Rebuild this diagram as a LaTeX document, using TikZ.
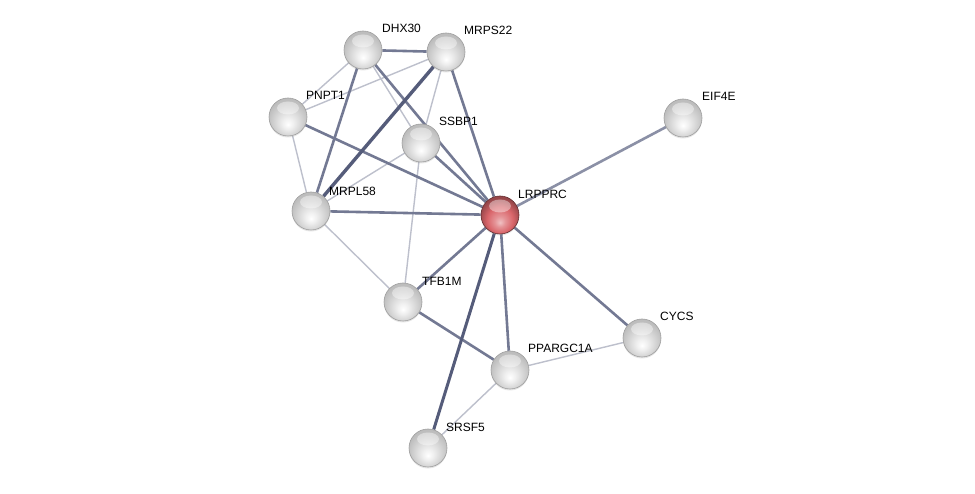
\documentclass[tikz,border=0pt]{standalone}
\usepackage{fontspec}
\setmainfont{Liberation Sans}
\usetikzlibrary{positioning, shadows, backgrounds}
\definecolor{cEdge}{HTML}{5A6180}
\definecolor{cQuery}{HTML}{D9656A}
\pgfdeclareradialshading{protball}{\pgfpoint{0bp}{-10bp}}{%
  color(0bp)=(white); color(7bp)=(gray!12); color(17bp)=(gray!32);
  color(27bp)=(gray!52); color(50bp)=(gray!55)}
\pgfdeclareradialshading{queryball}{\pgfpoint{0bp}{-10bp}}{%
  color(0bp)=(cQuery!40!white); color(7bp)=(cQuery!70!white);
  color(17bp)=(cQuery); color(27bp)=(cQuery!70!black); color(50bp)=(cQuery!60!black)}
\pgfdeclarelayer{edgelayer}
\pgfsetlayers{background,edgelayer,main}
\tikzset{
  protein/.style={
    circle, minimum size=38pt, inner sep=0pt,
    draw=gray!75, line width=0.6pt,
    shading=#1,
    drop shadow={shadow xshift=0pt, shadow yshift=-1.5pt, opacity=0.2},
    path picture={
      \fill[white, opacity=0.4] ([yshift=-10pt]path picture bounding box.north)
        ellipse [x radius=11pt, y radius=6.5pt];
    }
  },
  protein/.default=protball,
  tag/.style={
    anchor=west, inner sep=0pt,
    font=\fontsize{12}{14}\selectfont, text=black
  },
  strong/.style={line width=3.4pt, color=cEdge!95!black},
  medium/.style={line width=2.6pt, color=cEdge!85},
  weak/.style={line width=1.4pt, color=cEdge!40},
}

\begin{document}
\begin{tikzpicture}[x=1pt, y=-1pt]

\begin{pgfonlayer}{background}
\fill[white] (0,0) rectangle (975,494);
\end{pgfonlayer}
\useasboundingbox (0,0) rectangle (975,494);

% proteins
\node[protein] (dhx) at (363,50) {};
\node[protein] (mrps) at (446,52) {};
\node[protein] (pnpt) at (288,117) {};
\node[protein] (ssbp) at (421,143) {};
\node[protein] (eif) at (683,118) {};
\node[protein] (mrpl) at (311,211) {};
\node[protein=queryball, draw=cQuery!45!black] (lrp) at (500,215) {};
\node[protein] (tfb) at (403,302) {};
\node[protein] (cycs) at (642,338) {};
\node[protein] (ppar) at (510,370) {};
\node[protein] (srsf) at (428,448) {};

% labels
\node[tag] at ([shift={(19pt,22pt)}]dhx.center) {DHX30};
\node[tag] at ([shift={(18pt,22pt)}]mrps.center) {MRPS22};
\node[tag] at ([shift={(18pt,22pt)}]pnpt.center) {PNPT1};
\node[tag] at ([shift={(18pt,22pt)}]ssbp.center) {SSBP1};
\node[tag] at ([shift={(19pt,22pt)}]eif.center) {EIF4E};
\node[tag] at ([shift={(18pt,20pt)}]mrpl.center) {MRPL58};
\node[tag] at ([shift={(18pt,21pt)}]lrp.center) {LRPPRC};
\node[tag] at ([shift={(19pt,21pt)}]tfb.center) {TFB1M};
\node[tag] at ([shift={(18pt,22pt)}]cycs.center) {CYCS};
\node[tag] at ([shift={(18pt,22pt)}]ppar.center) {PPARGC1A};
\node[tag] at ([shift={(18pt,21pt)}]srsf.center) {SRSF5};

% interactions
\begin{pgfonlayer}{edgelayer}
\draw[weak] (dhx) -- (pnpt);
\draw[weak] (mrps) -- (pnpt);
\draw[weak] (dhx) -- (ssbp);
\draw[weak] (mrps) -- (ssbp);
\draw[weak] (pnpt) -- (mrpl);
\draw[weak] (ssbp) -- (mrpl);
\draw[weak] (ssbp) -- (tfb);
\draw[weak] (mrpl) -- (tfb);
\draw[weak] (ppar) -- (cycs);
\draw[weak] (ppar) -- (srsf);
\draw[medium] (dhx) -- (mrps);
\draw[medium] (dhx) -- (mrpl);
\draw[medium] (dhx) -- (lrp);
\draw[medium] (mrps) -- (lrp);
\draw[medium] (pnpt) -- (lrp);
\draw[medium] (ssbp) -- (lrp);
\draw[medium] (mrpl) -- (lrp);
\draw[medium] (lrp) -- (tfb);
\draw[medium] (lrp) -- (ppar);
\draw[medium] (lrp) -- (cycs);
\draw[medium, color=cEdge!70] (lrp) -- (eif);
\draw[medium] (tfb) -- (ppar);
\draw[strong] (mrps) -- (mrpl);
\draw[strong, line width=3pt] (lrp) -- (srsf);
\end{pgfonlayer}

\end{tikzpicture}
\end{document}
